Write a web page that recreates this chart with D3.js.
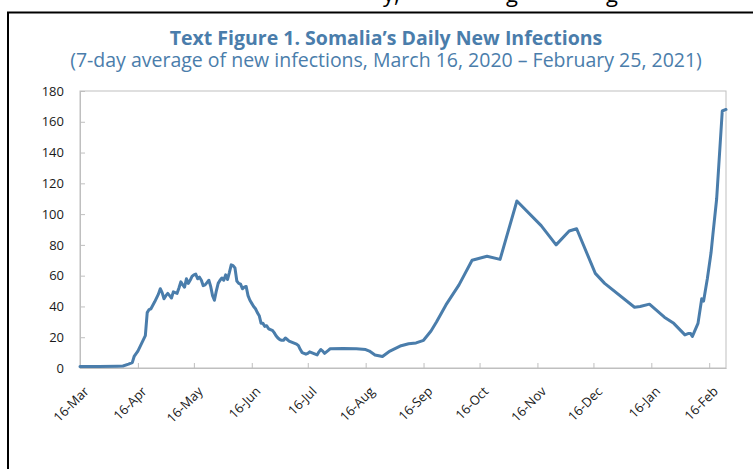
<!DOCTYPE html>
<html>
<head>
<meta charset="utf-8">
<script src="https://cdn.jsdelivr.net/npm/d3@7"></script>
<style>
  body { margin: 0; background: #fff; }
  .axis text { font-family: "Open Sans", sans-serif; font-size: 13px; fill: #1a1a1a; }
  .axis path, .axis line { stroke: #bfbfbf; }
</style>
</head>
<body>
<script>
/* --------------------------------------------------------------------
Data: 7-day average of new infections.
----------------------------------------------------------------------*/
var dates = [
  "2020-03-16","2020-03-26","2020-04-05","2020-04-08","2020-04-11","2020-04-13","2020-04-14",
  "2020-04-16","2020-04-18","2020-04-20","2020-04-21","2020-04-22","2020-04-23","2020-04-25",
  "2020-04-27","2020-04-28","2020-04-29","2020-04-30","2020-05-01","2020-05-02","2020-05-03",
  "2020-05-04","2020-05-05","2020-05-06","2020-05-07","2020-05-08","2020-05-09","2020-05-10",
  "2020-05-11","2020-05-12","2020-05-13","2020-05-14","2020-05-15","2020-05-16","2020-05-17",
  "2020-05-18","2020-05-19","2020-05-20","2020-05-21","2020-05-22","2020-05-23","2020-05-24",
  "2020-05-25","2020-05-26","2020-05-27","2020-05-28","2020-05-29","2020-05-30","2020-05-31",
  "2020-06-01","2020-06-02","2020-06-03","2020-06-04","2020-06-05","2020-06-06","2020-06-07",
  "2020-06-08","2020-06-09","2020-06-10","2020-06-11","2020-06-12","2020-06-13","2020-06-14",
  "2020-06-15","2020-06-16","2020-06-17","2020-06-18","2020-06-19","2020-06-20","2020-06-21",
  "2020-06-22","2020-06-23","2020-06-24","2020-06-25","2020-06-26","2020-06-27","2020-06-28",
  "2020-06-29","2020-06-30","2020-07-01","2020-07-02","2020-07-03","2020-07-04","2020-07-05",
  "2020-07-06","2020-07-07","2020-07-08","2020-07-09","2020-07-10","2020-07-11","2020-07-12",
  "2020-07-13","2020-07-14","2020-07-15","2020-07-16","2020-07-17","2020-07-18","2020-07-19",
  "2020-07-20","2020-07-21","2020-07-22","2020-07-23","2020-07-24","2020-07-25","2020-07-26",
  "2020-07-27","2020-07-28","2020-08-04","2020-08-11","2020-08-16","2020-08-18","2020-08-21",
  "2020-08-25","2020-08-29","2020-09-04","2020-09-08","2020-09-12","2020-09-16","2020-09-20",
  "2020-09-23","2020-09-28","2020-10-05","2020-10-12","2020-10-20","2020-10-27","2020-11-05",
  "2020-11-18","2020-11-26","2020-12-03","2020-12-07","2020-12-17","2020-12-22","2021-01-07",
  "2021-01-10","2021-01-15","2021-01-23","2021-01-28","2021-02-03","2021-02-05","2021-02-06",
  "2021-02-07","2021-02-10","2021-02-12","2021-02-13","2021-02-15","2021-02-17","2021-02-18",
  "2021-02-20","2021-02-23","2021-02-25"
];
var infections = [
  1.0, 1.0, 1.2, 1.3, 2.5, 3.5, 7.5,
  11, 16, 21, 36, 38, 38.5, 43,
  48, 51.5, 49, 45, 47, 48.5, 47,
  45.5, 49.5, 49, 48.5, 52, 56, 54,
  52.5, 58, 55, 57, 59.5, 60.5, 61,
  58, 59, 57, 53.5, 54, 55.5, 57,
  53, 47, 44, 50, 55, 57, 58.5,
  57, 60.5, 57.5, 62, 67, 66.5, 65,
  56.5, 55, 54.5, 51.5, 52.5, 53, 47,
  44, 42, 40, 38.5, 36, 34, 29,
  29, 27, 27.5, 25.5, 25, 24.5, 23,
  21, 19.5, 18.5, 18, 18, 19.5, 18.5,
  17.5, 17, 16.5, 16, 15.5, 14.5, 12,
  10, 9.5, 9, 9.5, 10.5, 10, 9.5,
  9, 8.5, 10.5, 12, 11, 9.5, 10.5,
  11.5, 12.5, 12.6, 12.5, 12, 11, 8.5,
  7.5, 11, 14.5, 15.8, 16.3, 18, 24,
  30, 41, 54, 70, 72.6, 70.6, 108.5,
  92.5, 80, 89, 90.5, 61.5, 55, 39.5,
  40, 41.5, 33, 29, 21.5, 22.5, 22.5,
  20.5, 29, 45, 43.5, 58, 75, 87,
  110, 167, 168
];

var tickDates = ["2020-03-16","2020-04-16","2020-05-16","2020-06-16","2020-07-16","2020-08-16",
                 "2020-09-16","2020-10-16","2020-11-16","2020-12-16","2021-01-16","2021-02-16"];
var tickLabels = ["16-Mar","16-Apr","16-May","16-Jun","16-Jul","16-Aug",
                  "16-Sep","16-Oct","16-Nov","16-Dec","16-Jan","16-Feb"];
var yTicks = [0, 20, 40, 60, 80, 100, 120, 140, 160, 180];

var title = "Text Figure 1. Somalia\u2019s Daily New Infections";
var subtitle = "(7-day average of new infections, March 16, 2020 \u2013 February 25, 2021)";

/* --------------------------------------------------------------------
Margins and svg.
----------------------------------------------------------------------*/
var W = 753, H = 469;
var margin = {top: 91, right: 27, bottom: 101, left: 80},
    width = W - margin.left - margin.right,
    height = H - margin.top - margin.bottom;

var parseTime = d3.timeParse("%Y-%m-%d");
var blue = "#4a7dab";

var root = d3.select("body")
    .append("svg")
    .attr("width", W)
    .attr("height", H);

// page frame and the clipped line of body text above it
root.append("rect")
    .attr("x", 8).attr("y", 12.5)
    .attr("width", 800).attr("height", 500)
    .attr("fill", "none")
    .attr("stroke", "#000")
    .attr("stroke-width", 2);

var cut = root.append("text")
    .attr("y", 1.5)
    .style("font-family", "Open Sans, sans-serif")
    .style("font-size", "22px")
    .attr("fill", "#000");
cut.append("tspan").attr("x", 383).text("y,");
cut.append("tspan").attr("x", 506).text("g");
cut.append("tspan").attr("x", 606).text("g");

// titles
root.append("text")
    .attr("x", 386).attr("y", 45)
    .attr("text-anchor", "middle")
    .style("font-family", "Open Sans, sans-serif")
    .style("font-size", "19.5px")
    .style("font-weight", "bold")
    .attr("fill", blue)
    .text(title);

root.append("text")
    .attr("x", 386).attr("y", 67)
    .attr("text-anchor", "middle")
    .style("font-family", "Open Sans, sans-serif")
    .style("font-size", "19.5px")
    .attr("fill", blue)
    .text(subtitle);

var svg = root.append("g")
    .attr("transform", "translate(" + margin.left + "," + margin.top + ")");

/* --------------------------------------------------------------------
Scales and axes.
----------------------------------------------------------------------*/
var xScale = d3.scaleTime()
    .domain([parseTime("2020-03-16"), parseTime("2021-02-25")])
    .range([0, width]);
var yScale = d3.scaleLinear()
    .domain([0, 180])
    .range([height, 0]);

var xAxis = d3.axisBottom(xScale)
    .tickValues(tickDates.map(parseTime))
    .tickFormat(function(d, i) { return tickLabels[i]; })
    .tickSizeInner(-5)
    .tickSizeOuter(0);

var yAxis = d3.axisLeft(yScale)
    .tickValues(yTicks)
    .tickSizeInner(-5)
    .tickSizeOuter(0)
    .tickPadding(16);

// plot frame
svg.append("rect")
    .attr("x", 0).attr("y", 0)
    .attr("width", width).attr("height", height)
    .attr("fill", "none")
    .attr("stroke", "#bfbfbf");

var gx = svg.append("g")
    .attr("class", "x axis")
    .attr("transform", "translate(0," + height + ")")
    .call(xAxis);

gx.selectAll("text")
    .attr("y", 0)
    .attr("dy", "0.35em")
    .attr("text-anchor", "end")
    .attr("transform", "translate(6,21) rotate(-45)");

svg.append("g")
    .attr("class", "y axis")
    .call(yAxis);

/* --------------------------------------------------------------------
The line.
----------------------------------------------------------------------*/
var line = d3.line()
    .x(function(d, i) { return xScale(parseTime(dates[i])); })
    .y(function(d) { return yScale(d); });

svg.append("path")
    .datum(infections)
    .attr("d", line)
    .attr("fill", "none")
    .attr("stroke", blue)
    .attr("stroke-width", 3)
    .attr("stroke-linejoin", "round")
    .attr("stroke-linecap", "round");
</script>
</body>
</html>
